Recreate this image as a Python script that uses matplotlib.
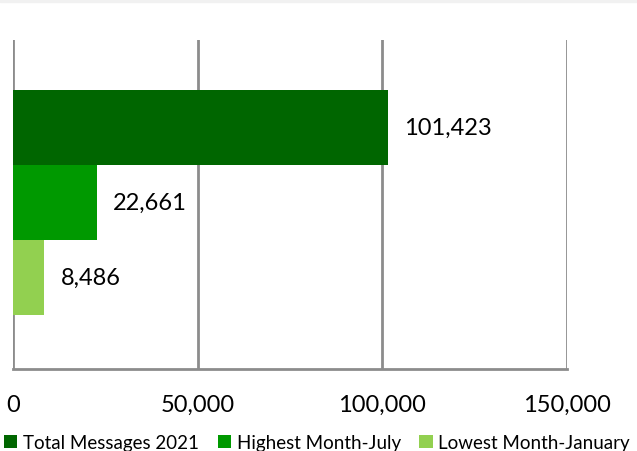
import matplotlib
matplotlib.use("Agg")
import matplotlib.pyplot as plt
from matplotlib.patches import Rectangle
from matplotlib.ticker import FuncFormatter

series = ["Total Messages 2021", "Highest Month-July", "Lowest Month-January"]
values = [101423, 22661, 8486]
colors = ["#006600", "#009900", "#92D050"]
x_ticks = [0, 50000, 100000, 150000]

plt.rcParams["font.family"] = ["Lato", "DejaVu Sans"]

fig = plt.figure(figsize=(6.37, 4.52), dpi=100)
ax = fig.add_axes([13 / 637, 82 / 452, 554 / 637, 329 / 452])

# faint shadow strip along the top edge
fig.patches.append(Rectangle((0, 1 - 3 / 452), 1, 3 / 452, transform=fig.transFigure,
                             color="#f1f1f1", zorder=0))

bar_h = 0.228
offsets = [bar_h, 0, -bar_h]
for name, val, col, off in zip(series, values, colors, offsets):
    bars = ax.barh(off + 0.007, val, height=bar_h, color=col, label=name, zorder=3)
    ax.bar_label(bars, labels=[f"{val:,}"], padding=12, fontsize=17, color="#000000")

ax.set_xlim(0, 150000)
ax.set_ylim(-0.5, 0.5)
ax.set_xticks(x_ticks)
ax.xaxis.set_major_formatter(FuncFormatter(lambda v, p: f"{int(v):,}"))
ax.tick_params(axis="x", length=0, pad=18, labelsize=17, labelcolor="#000000")
ax.set_yticks([])
ax.grid(axis="x", color="#8c8c8c", linewidth=2, zorder=0)
for side in ["top", "right", "left"]:
    ax.spines[side].set_visible(False)
ax.spines["bottom"].set_color("#8c8c8c")
ax.spines["bottom"].set_linewidth(2)

fig.legend(loc="center left", bbox_to_anchor=(-0.005, 0.018), ncol=3, frameon=False,
           fontsize=13.5, handlelength=0.7, handleheight=0.7, handletextpad=0.3,
           columnspacing=1.0, borderaxespad=0)

fig.savefig("out.png", dpi=100)
